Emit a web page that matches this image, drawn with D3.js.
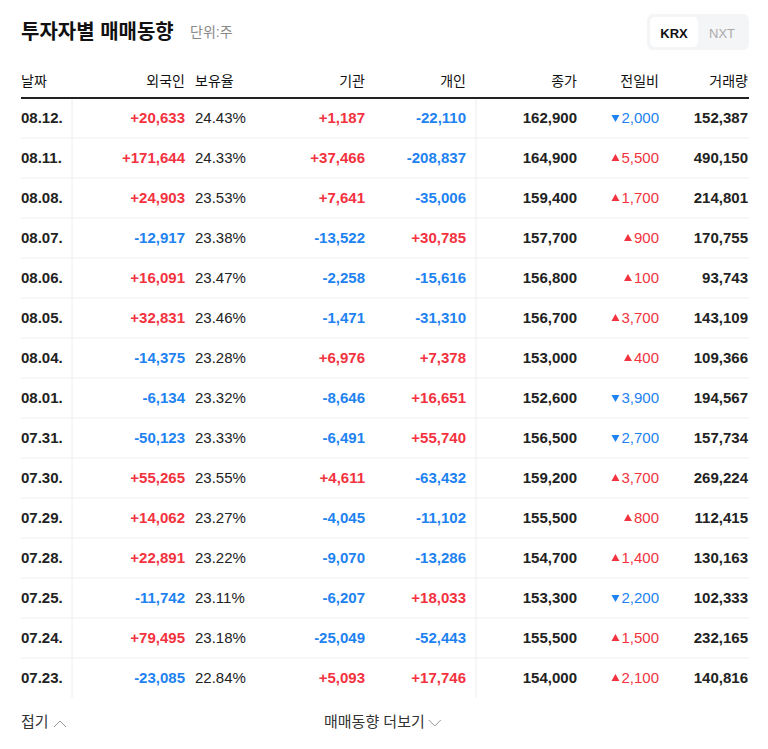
<!DOCTYPE html>
<html><head><meta charset="utf-8">
<script src="https://cdn.jsdelivr.net/npm/d3@7"></script>
<style>body{margin:0;background:#fff}text{font-family:"Liberation Sans","Noto Sans CJK KR",sans-serif}</style>
</head><body><div id="tbl"></div>
<script>
// table data
var dates = ["08.12.","08.11.","08.08.","08.07.","08.06.","08.05.","08.04.","08.01.","07.31.","07.30.","07.29.","07.28.","07.25.","07.24.","07.23."];
var foreign = [20633,171644,24903,-12917,16091,32831,-14375,-6134,-50123,55265,14062,22891,-11742,79495,-23085];
var holding = [24.43,24.33,23.53,23.38,23.47,23.46,23.28,23.32,23.33,23.55,23.27,23.22,23.11,23.18,22.84];
var inst = [1187,37466,7641,-13522,-2258,-1471,6976,-8646,-6491,4611,-4045,-9070,-6207,-25049,5093];
var indiv = [-22110,-208837,-35006,30785,-15616,-31310,7378,16651,55740,-63432,-11102,-13286,18033,-52443,17746];
var close = [162900,164900,159400,157700,156800,156700,153000,152600,156500,159200,155500,154700,153300,155500,154000];
var change = [-2000,5500,1700,900,100,3700,400,-3900,-2700,3700,800,1400,-2200,1500,2100];
var volume = [152387,490150,214801,170755,93743,143109,109366,194567,157734,269224,112415,130163,102333,232165,140816];
var headers = ["날짜","외국인","보유율","기관","개인","종가","전일비","거래량"];

var W = 768, H = 749, RED = "#f2333f", BLUE = "#1e82f0";
var svg = d3.select("#tbl").append("svg").attr("width", W).attr("height", H);
var y = d3.scaleBand().domain(dates).range([98, 698]);
var fmt = d3.format(",");
var sgn = function(v){ return (v > 0 ? "+" : "-") + fmt(Math.abs(v)); };
var col = function(v){ return v > 0 ? RED : BLUE; };

// title
svg.append("text").attr("x", 21).attr("y", 39).attr("font-size", 20).attr("font-weight", "bold").attr("fill", "#111").text("투자자별 매매동향");
svg.append("text").attr("x", 190).attr("y", 37).attr("font-size", 14).attr("fill", "#888").text("단위:주");
// KRX / NXT toggle
svg.append("rect").attr("x", 647).attr("y", 14).attr("width", 102).attr("height", 36).attr("rx", 6).attr("fill", "#f4f5f7");
svg.append("rect").attr("x", 650).attr("y", 17).attr("width", 48).attr("height", 30).attr("rx", 5).attr("fill", "#fff");
svg.append("text").attr("x", 674).attr("y", 38).attr("text-anchor", "middle").attr("font-size", 13).attr("font-weight", "bold").attr("fill", "#111").text("KRX");
svg.append("text").attr("x", 722).attr("y", 38).attr("text-anchor", "middle").attr("font-size", 13).attr("fill", "#aaa").text("NXT");

// columns: x position, anchor
var cols = [
  {x: 21, a: "start"}, {x: 185, a: "end"}, {x: 195, a: "start"}, {x: 365, a: "end"},
  {x: 466, a: "end"}, {x: 577, a: "end"}, {x: 659, a: "end"}, {x: 748, a: "end"}
];
svg.selectAll(".hd").data(headers).enter().append("text")
  .attr("x", function(d, i){ return cols[i].x; }).attr("y", 86)
  .attr("text-anchor", function(d, i){ return cols[i].a; })
  .attr("font-size", 14).attr("fill", "#111").text(function(d){ return d; });
svg.append("line").attr("x1", 21).attr("x2", 749).attr("y1", 98).attr("y2", 98).attr("stroke", "#222").attr("stroke-width", 2);

// row lines & vertical separators
svg.selectAll(".rl").data(dates.slice(1)).enter().append("line")
  .attr("x1", 21).attr("x2", 749)
  .attr("y1", function(d){ return y(d); }).attr("y2", function(d){ return y(d); })
  .attr("stroke", "#eee");
[72, 476].forEach(function(x){
  svg.append("line").attr("x1", x).attr("x2", x).attr("y1", 99).attr("y2", 698).attr("stroke", "#eee");
});

var rows = svg.selectAll(".row").data(dates).enter().append("g")
  .attr("transform", function(d){ return "translate(0," + (y(d) + y.bandwidth() / 2 + 5) + ")"; });
var cell = function(i, txt, fill, bold){
  return rows.append("text").attr("x", cols[i].x).attr("text-anchor", cols[i].a)
    .attr("font-size", 15).attr("font-weight", bold ? "bold" : "normal")
    .attr("fill", fill).text(txt);
};
cell(0, function(d){ return d; }, "#222", true);
cell(1, function(d, i){ return sgn(foreign[i]); }, function(d, i){ return col(foreign[i]); }, true);
cell(2, function(d, i){ return holding[i].toFixed(2) + "%"; }, "#222", false);
cell(3, function(d, i){ return sgn(inst[i]); }, function(d, i){ return col(inst[i]); }, true);
cell(4, function(d, i){ return sgn(indiv[i]); }, function(d, i){ return col(indiv[i]); }, true);
cell(5, function(d, i){ return fmt(close[i]); }, "#222", true);
var chg = cell(6, function(d, i){ return fmt(Math.abs(change[i])); }, function(d, i){ return col(change[i]); }, false);
cell(7, function(d, i){ return fmt(volume[i]); }, "#222", true);
// change arrows, placed just left of the measured text
chg.each(function(d, i){
  var w = this.getComputedTextLength();
  d3.select(this.parentNode).append("path")
    .attr("transform", "translate(" + (659 - w - 6) + ",-5)")
    .attr("d", change[i] > 0 ? "M-4,3L4,3L0,-4Z" : "M-4,-3L4,-3L0,4Z")
    .attr("fill", col(change[i]));
});

// footer
svg.append("text").attr("x", 21).attr("y", 727).attr("font-size", 15).attr("fill", "#333").text("접기");
svg.append("path").attr("d", "M54,727L60,721L66,727").attr("fill", "none").attr("stroke", "#999");
var more = svg.append("text").attr("x", 324).attr("y", 727).attr("font-size", 15).attr("fill", "#333").text("매매동향 더보기");
var mx = 324 + more.node().getComputedTextLength() + 4;
svg.append("path").attr("d", "M" + mx + ",720L" + (mx + 6) + ",726L" + (mx + 12) + ",720").attr("fill", "none").attr("stroke", "#999");
</script></body></html>
